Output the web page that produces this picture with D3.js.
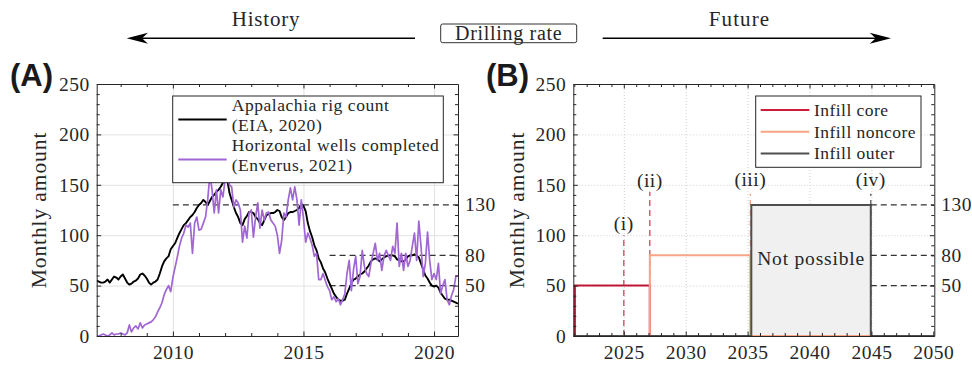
<!DOCTYPE html>
<html>
<head>
<meta charset="utf-8">
<script src="https://cdn.jsdelivr.net/npm/d3@7"></script>
<style>
  body { margin: 0; background: #fff; }
  svg text { font-family: "Liberation Serif", "Times New Roman", serif; fill: #262626; }
</style>
</head>
<body>
<svg id="chart" width="972" height="366"></svg>
<script>
// ---------- History: monthly values, February 2007 to December 2020 ----------
const historyStart = { year: 2007, month: 2 };
const rigCount = [
  55, 54, 53, 53, 54, 56, 53, 56, 59, 58, 56,
  59, 61, 57, 53, 51, 52, 54, 55, 57, 61, 62, 60,
  57, 53, 51, 53, 54, 56, 62, 69, 74, 77, 79, 86,
  89, 92, 97, 102, 106, 110, 112, 115, 118, 120, 123, 127,
  130, 132, 135, 133, 130, 134, 138, 140, 143, 145, 148, 152,
  158, 155, 142, 135, 128, 122, 118, 112, 110, 116, 119, 123,
  123, 122, 118, 116, 112, 110, 115, 120, 121, 122, 122, 123,
  125, 124, 118, 115, 118, 122, 123, 123, 124, 125, 127, 131,
  129, 124, 112, 104, 98, 90, 85, 77, 73, 67, 63, 57,
  52, 47, 42, 39, 36, 35, 35, 36, 42, 47, 52, 56,
  57, 59, 61, 62, 64, 67, 70, 74, 76, 77, 76, 74,
  76, 78, 79, 80, 80, 80, 79, 76, 75, 74, 74, 76,
  79, 80, 80, 81, 80, 78, 72, 66, 60, 57, 53, 50,
  49, 50, 48, 43, 40, 37, 36, 36, 35, 34, 33, 32
];
const horizontalWells = [
  0, 0, 1, 2, 1, 0, 1, 3, 1, 2, 2,
  3, 2, 1, 3, 11, 4, 8, 10, 7, 13, 8, 11,
  12, 13, 14, 16, 19, 24, 28, 33, 41, 46, 50, 44,
  58, 68, 78, 89, 97, 102, 110, 108, 112, 82, 112, 118,
  105, 106, 112, 118, 135, 160, 145, 122, 145, 122, 145, 138,
  155, 160, 150, 148, 128, 135, 132, 125, 93, 109, 97, 122,
  125, 98, 118, 132, 107, 125, 115, 122, 123, 115, 112, 109,
  100, 82, 95, 122, 118, 135, 147, 135, 148, 135, 110, 135,
  117, 93, 102, 97, 90, 79, 82, 56, 56, 62, 55, 49,
  45, 36, 39, 34, 37, 31, 36, 42, 62, 75, 45, 66,
  79, 52, 59, 85, 69, 62, 59, 72, 82, 92, 75, 82,
  65, 79, 85, 80, 75, 89, 82, 112, 69, 82, 65, 82,
  69, 75, 89, 102, 75, 114, 89, 59, 72, 103, 75, 56,
  62, 56, 72, 42, 50, 56, 36, 31, 40, 46, 59, 60
];
const historyLegend = [
  ["Appalachia rig count", "(EIA, 2020)"],
  ["Horizontal wells completed", "(Enverus, 2021)"]
];

// Reference drilling levels (wells per month)
const rateLevels = [130, 80, 50];
const historyLevelStarts = [2010, 2016, 2016];

// ---------- Future scenario: step changes in drilling rate ----------
const futureNames = ["Infill core", "Infill noncore", "Infill outer"];
const futureYears = [
  [2020.92, 2021.05, 2027.1, 2050.08],
  [2020.92, 2027.1, 2035.22, 2050.08],
  [2020.92, 2035.3, 2044.95, 2050.08]
];
const futureRates = [
  [0, 50, 0, 0],
  [0, 80, 0, 0],
  [0, 130, 0, 0]
];
const milestoneYears = [2025, 2027.1, 2035.22, 2044.95];
const milestoneLabels = ["(i)", "(ii)", "(iii)", "(iv)"];
const milestoneTops = [100, 143, 141, 141];
const futureLevelStart = 2044.95;

// ---------- Ticks ----------
const yMajor = [0, 50, 100, 150, 200, 250];
const yMinor = [10, 20, 30, 40, 60, 70, 80, 90, 110, 120, 130, 140, 160, 170, 180, 190, 210, 220, 230, 240];
const xMajorA = [2010, 2015, 2020];
const xMinorA = [2008, 2009, 2011, 2012, 2013, 2014, 2016, 2017, 2018, 2019];
const xMajorB = [2025, 2030, 2035, 2040, 2045, 2050];
const xMinorB = [2021, 2022, 2023, 2024, 2026, 2027, 2028, 2029, 2031, 2032, 2033, 2034,
                 2036, 2037, 2038, 2039, 2041, 2042, 2043, 2044, 2046, 2047, 2048, 2049];

// ---------- Styling ----------
const AX = "#262626";
const colHistory = ["#000000", "#a066d3"];
const colFuture = ["#cc1c3a", "#f8a585", "#4f4f4f"];
const milestoneColors = ["#d9415e", "#d9415e", "#f8a585", "#555555"];

const svg = d3.select("#chart");
const plotTop = 84, plotBottom = 336;

const xA = d3.scaleLinear().domain([2007 + 1 / 12, 2020 + 11 / 12]).range([96.7, 458]);
const xB = d3.scaleLinear().domain([2020.92, 2050.08]).range([573.3, 934.3]);
const y = d3.scaleLinear().domain([0, 250]).range([plotBottom, plotTop]);

const monthX = i => historyStart.year + (historyStart.month - 1 + i) / 12;

function grid(g, x, xTicks, dotted) {
  const [x0, x1] = x.range();
  const gg = g.append("g");
  gg.append("g").attr("transform", `translate(${x0},0)`)
    .call(d3.axisLeft(y).tickValues([50, 100, 150, 200]).tickSize(-(x1 - x0)).tickFormat(""))
    .call(s => s.select(".domain").remove());
  gg.append("g").attr("transform", `translate(0,${plotBottom})`)
    .call(d3.axisBottom(x).tickValues(xTicks).tickSize(-(plotBottom - plotTop)).tickFormat(""))
    .call(s => s.select(".domain").remove());
  gg.selectAll("line")
    .attr("stroke", dotted ? "#cfcfcf" : "#e2e2e2")
    .attr("stroke-width", 1)
    .attr("stroke-dasharray", dotted ? "1,2" : null);
}

function frame(g, x, xMajor, xMinor) {
  const [x0, x1] = x.range();
  const style = s => {
    s.selectAll(".domain").attr("stroke", AX).attr("stroke-width", 1).attr("fill", "none");
    s.selectAll(".tick line").attr("stroke", AX).attr("stroke-width", 1);
  };
  const labelStyle = s => s.selectAll("text")
    .style("font-size", "19.5px").style("letter-spacing", "0.5px")
    .style("font-family", "'Liberation Serif', 'Times New Roman', serif").attr("fill", AX);
  // bottom
  g.append("g").attr("transform", `translate(0,${plotBottom})`)
    .call(d3.axisBottom(x).tickValues(xMajor).tickFormat(d3.format("d")).tickSizeInner(-4.5).tickSizeOuter(0).tickPadding(9.5))
    .call(style).call(labelStyle);
  g.append("g").attr("transform", `translate(0,${plotBottom})`)
    .call(d3.axisBottom(x).tickValues(xMinor).tickFormat("").tickSizeInner(-3).tickSizeOuter(0))
    .call(style).call(s => s.select(".domain").remove());
  // top
  g.append("g").attr("transform", `translate(0,${plotTop})`)
    .call(d3.axisTop(x).tickValues(xMajor).tickFormat("").tickSizeInner(-4.5).tickSizeOuter(0))
    .call(style);
  g.append("g").attr("transform", `translate(0,${plotTop})`)
    .call(d3.axisTop(x).tickValues(xMinor).tickFormat("").tickSizeInner(-3).tickSizeOuter(0))
    .call(style).call(s => s.select(".domain").remove());
  // left
  g.append("g").attr("transform", `translate(${x0},0)`)
    .call(d3.axisLeft(y).tickValues(yMajor).tickSizeInner(-4.5).tickSizeOuter(0).tickPadding(7))
    .call(style).call(labelStyle);
  g.append("g").attr("transform", `translate(${x0},0)`)
    .call(d3.axisLeft(y).tickValues(yMinor).tickFormat("").tickSizeInner(-3).tickSizeOuter(0))
    .call(style).call(s => s.select(".domain").remove());
  // right
  g.append("g").attr("transform", `translate(${x1},0)`)
    .call(d3.axisRight(y).tickValues(yMajor).tickFormat("").tickSizeInner(-4.5).tickSizeOuter(0))
    .call(style);
  g.append("g").attr("transform", `translate(${x1},0)`)
    .call(d3.axisRight(y).tickValues(yMinor).tickFormat("").tickSizeInner(-3).tickSizeOuter(0))
    .call(style).call(s => s.select(".domain").remove());
}

function yTitle(g, xPos) {
  g.append("text")
    .attr("transform", `translate(${xPos},210) rotate(-90)`)
    .attr("text-anchor", "middle")
    .style("font-size", "21.5px").style("letter-spacing", "0.9px")
    .text("Monthly amount");
}

function levelLabels(g, x) {
  const x1 = x.range()[1];
  g.selectAll(null).data(rateLevels).join("text")
    .attr("x", x1 + 7).attr("y", d => y(d)).attr("dy", "0.33em")
    .style("font-size", "19.5px").style("letter-spacing", "0.5px")
    .text(d => d);
}

function clipFor(id, x) {
  const [x0, x1] = x.range();
  svg.append("clipPath").attr("id", id).append("rect")
    .attr("x", x0).attr("y", plotTop).attr("width", x1 - x0).attr("height", plotBottom - plotTop);
}
clipFor("clipA", xA);
clipFor("clipB", xB);

// ======================= Panel A: history =======================
const gA = svg.append("g");
grid(gA, xA, xMajorA, false);

const plotA = gA.append("g").attr("clip-path", "url(#clipA)");
plotA.selectAll(null).data(rateLevels).join("line")
  .attr("x1", (d, i) => xA(historyLevelStarts[i])).attr("x2", xA.range()[1])
  .attr("y1", d => y(d)).attr("y2", d => y(d))
  .attr("stroke", "#333").attr("stroke-width", 1.3).attr("stroke-dasharray", "6,4");

const lineA = d3.line().x((d, i) => xA(monthX(i))).y(d => y(d));
[rigCount, horizontalWells].forEach((series, k) => {
  plotA.append("path").datum(series)
    .attr("d", lineA)
    .attr("fill", "none")
    .attr("stroke", colHistory[k])
    .attr("stroke-width", k === 0 ? 1.9 : 1.7)
    .attr("stroke-linejoin", "round");
});

// legend A
const legA = gA.append("g");
legA.append("rect").attr("x", 172.7).attr("y", 96).attr("width", 270.6).attr("height", 86.7)
  .attr("fill", "#fff").attr("stroke", AX).attr("stroke-width", 1);
historyLegend.forEach((lines, k) => {
  const cy = 119.5 + k * 40;
  legA.append("line").attr("x1", 178.3).attr("x2", 226.7).attr("y1", cy).attr("y2", cy)
    .attr("stroke", colHistory[k]).attr("stroke-width", 2);
  lines.forEach((t, j) => {
    legA.append("text").attr("x", 231.7).attr("y", cy - 9 + j * 20.5)
      .style("font-size", "17.5px").style("letter-spacing", "0.55px").text(t);
  });
});

frame(gA, xA, xMajorA, xMinorA);
yTitle(gA, 46);
levelLabels(gA, xA);

// ======================= Panel B: future =======================
const gB = svg.append("g");
grid(gB, xB, xMajorB.filter(d => d < 2050), true);
const plotB = gB.append("g").attr("clip-path", "url(#clipB)");

// region that cannot be reached
plotB.append("path")
  .datum(futureRates[2])
  .attr("d", d3.area().curve(d3.curveStepAfter)
    .x((d, i) => xB(futureYears[2][i])).y0(y(0)).y1(d => y(d)))
  .attr("fill", "#f0f0f0");

// milestone markers
plotB.selectAll(null).data(milestoneYears).join("line")
  .attr("x1", d => xB(d)).attr("x2", d => xB(d))
  .attr("y1", y(0)).attr("y2", (d, i) => y(milestoneTops[i]))
  .attr("stroke", (d, i) => milestoneColors[i]).attr("stroke-width", 1.3)
  .attr("stroke-dasharray", "6,4");

// future drilling rate series
futureRates.forEach((rates, k) => {
  const ln = d3.line().curve(d3.curveStepAfter)
    .x((d, i) => xB(futureYears[k][i])).y(d => y(d));
  plotB.append("path").datum(rates).attr("d", ln)
    .attr("fill", "none").attr("stroke", colFuture[k]).attr("stroke-width", 2);
  if (k === 0) {
    plotB.append("path").datum(rates).attr("d", ln)
      .attr("fill", "none").attr("stroke", "#7a0f1f").attr("stroke-width", 1)
      .attr("stroke-dasharray", "1.5,1.5").attr("opacity", 0.55);
  }
});

plotB.selectAll(null).data(rateLevels).join("line")
  .attr("x1", xB(futureLevelStart)).attr("x2", xB.range()[1])
  .attr("y1", d => y(d)).attr("y2", d => y(d))
  .attr("stroke", "#333").attr("stroke-width", 1.3).attr("stroke-dasharray", "6,4");

gB.append("text")
  .attr("x", (xB(futureYears[2][1]) + xB(futureYears[2][2])) / 2)
  .attr("y", 265).attr("text-anchor", "middle")
  .style("font-size", "19.5px").style("letter-spacing", "0.8px")
  .text("Not possible");

gB.selectAll(null).data(milestoneLabels).join("text")
  .attr("x", (d, i) => xB(milestoneYears[i]))
  .attr("y", (d, i) => y(milestoneTops[i]) - (i < 2 ? 5 : 7.5))
  .attr("text-anchor", "middle")
  .style("font-size", "19.5px").style("letter-spacing", "0.5px")
  .text(d => d);

// legend B
const legB = gB.append("g");
legB.append("rect").attr("x", 755.7).attr("y", 96).attr("width", 165.3).attr("height", 71.3)
  .attr("fill", "#fff").attr("stroke", AX).attr("stroke-width", 1);
futureNames.forEach((name, k) => {
  const cy = 110 + k * 21.7;
  legB.append("line").attr("x1", 760.7).attr("x2", 809.3).attr("y1", cy).attr("y2", cy)
    .attr("stroke", colFuture[k]).attr("stroke-width", 2);
  legB.append("text").attr("x", 814).attr("y", cy + 6)
    .style("font-size", "17.5px").style("letter-spacing", "0.45px").text(name);
});

frame(gB, xB, xMajorB, xMinorB);
yTitle(gB, 523.5);
levelLabels(gB, xB);

// ======================= Header =======================
svg.append("text").attr("x", 10).attr("y", 86)
  .style("font-family", "'Liberation Sans', Arial, sans-serif")
  .style("font-weight", "bold").style("font-size", "31px").style("fill", "#1a1a1a")
  .text("(A)");
svg.append("text").attr("x", 486).attr("y", 86)
  .style("font-family", "'Liberation Sans', Arial, sans-serif")
  .style("font-weight", "bold").style("font-size", "31px").style("fill", "#1a1a1a")
  .text("(B)");

svg.append("text").attr("x", 266).attr("y", 25.5).attr("text-anchor", "middle")
  .style("font-size", "21px").style("letter-spacing", "0.8px").text("History");
svg.append("text").attr("x", 739.5).attr("y", 25.5).attr("text-anchor", "middle")
  .style("font-size", "21px").style("letter-spacing", "1.1px").text("Future");

svg.append("rect").attr("x", 440.7).attr("y", 24).attr("width", 136).attr("height", 18.7)
  .attr("rx", 2).attr("fill", "#fff").attr("stroke", "#333").attr("stroke-width", 1);
svg.append("text").attr("x", 508.7).attr("y", 39.5).attr("text-anchor", "middle")
  .style("font-size", "20px").style("letter-spacing", "0.7px").text("Drilling rate");

// direction arrows
const arrowY = 38.3;
svg.append("line").attr("x1", 415).attr("x2", 140).attr("y1", arrowY).attr("y2", arrowY)
  .attr("stroke", "#000").attr("stroke-width", 1.5);
svg.append("path")
  .attr("d", `M126.7,${arrowY} L148,${arrowY - 5.5} L142,${arrowY} L148,${arrowY + 5.5} Z`)
  .attr("fill", "#000");
svg.append("line").attr("x1", 602.7).attr("x2", 878).attr("y1", arrowY).attr("y2", arrowY)
  .attr("stroke", "#000").attr("stroke-width", 1.5);
svg.append("path")
  .attr("d", `M891,${arrowY} L869.7,${arrowY - 5.5} L875.7,${arrowY} L869.7,${arrowY + 5.5} Z`)
  .attr("fill", "#000");
</script>
</body>
</html>
